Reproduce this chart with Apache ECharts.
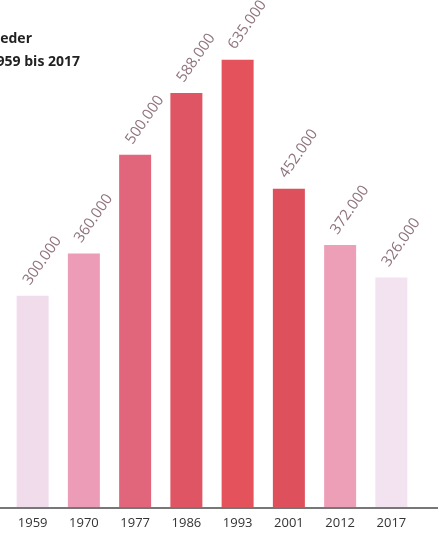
<!DOCTYPE html>
<html>
<head>
<meta charset="utf-8">
<script src="https://cdn.jsdelivr.net/npm/echarts@6/dist/echarts.min.js"></script>
<style>
html,body{margin:0;padding:0;background:#fff;}
#c{width:438px;height:537px;}
</style>
</head>
<body>
<div id="c"></div>
<script>
const years = ['1959', '1970', '1977', '1986', '1993', '2001', '2012', '2017'];
const members = [300000, 360000, 500000, 588000, 635000, 452000, 372000, 326000];
const titleLines = ['Mitglieder', '1959 bis 2017'];

const barColors = ['#f1dcec', '#ec9cb6', '#e1667c', '#e05563', '#e4535b', '#de505c', '#ee9fb8', '#f3e3f1'];

function fmt(v) {
  return String(v).replace(/\B(?=(\d{3})+(?!\d))/g, '.');
}

const chart = echarts.init(document.getElementById('c'));
chart.setOption({
  backgroundColor: '#fff',
  animation: false,
  graphic: [
    { type: 'text', right: 406, top: 32, style: { text: titleLines[0], font: 'bold 14px "Open Sans"', fill: '#222', textAlign: 'right' } },
    { type: 'text', right: 358, top: 55, style: { text: titleLines[1], font: 'bold 14px "Open Sans"', fill: '#222', textAlign: 'right' } }
  ],
  grid: [
    { left: 7, right: 21, top: 14, bottom: 30 },
    { left: 0, right: 0, top: 14, bottom: 29 }
  ],
  xAxis: [
    {
      type: 'category', gridIndex: 0, data: years,
      axisLine: { show: false }, axisTick: { show: false },
      axisLabel: { color: '#333', fontFamily: 'Open Sans', fontSize: 13, margin: 10 }
    },
    {
      type: 'category', gridIndex: 1, data: years,
      axisLine: { show: true, lineStyle: { color: '#4a4a4a', width: 1.5 } },
      axisTick: { show: false }, axisLabel: { show: false }
    }
  ],
  yAxis: [
    { type: 'value', gridIndex: 0, min: 0, max: 700000, show: false, splitLine: { show: false } },
    { type: 'value', gridIndex: 1, min: 0, max: 700000, show: false, splitLine: { show: false } }
  ],
  series: [{
    type: 'bar',
    xAxisIndex: 0, yAxisIndex: 0,
    barWidth: 32,
    data: members.map((v, i) => ({ value: v, itemStyle: { color: barColors[i] } })),
    label: {
      show: true,
      position: 'top',
      rotate: 55,
      align: 'left',
      verticalAlign: 'bottom',
      distance: 8,
      offset: [0, 0],
      color: '#8f727e',
      fontFamily: 'Open Sans',
      fontSize: 15,
      formatter: p => fmt(p.value)
    }
  }]
});
</script>
</body>
</html>
